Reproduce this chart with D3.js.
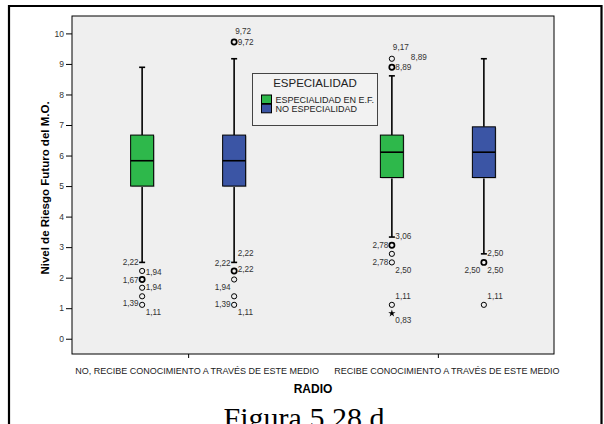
<!DOCTYPE html>
<html><head><meta charset="utf-8">
<script src="https://d3js.org/d3.v7.min.js"></script>
<style>body{margin:0;background:#fff}svg{display:block}</style>
</head><body>
<script>
const categories = ["NO, RECIBE CONOCIMIENTO A TRAVÉS DE ESTE MEDIO", "RECIBE CONOCIMIENTO A TRAVÉS DE ESTE MEDIO"];
const seriesNames = ["ESPECIALIDAD EN E.F.", "NO ESPECIALIDAD"];
const yTicks = [0,1,2,3,4,5,6,7,8,9,10];
// box statistics (per category)
const espLow = [2.50, 3.33], espQ1 = [5.00, 5.28], espMed = [5.83, 6.11], espQ3 = [6.67, 6.67], espHigh = [8.89, 8.61];
const noLow  = [2.50, 2.78], noQ1  = [5.00, 5.28], noMed  = [5.83, 6.11], noQ3  = [6.67, 6.94], noHigh  = [9.17, 9.17];
// outliers (circles) and extremes (stars)
const espOut = [[2.22, 1.94, 1.94, 1.67, 1.39, 1.11], [9.17, 8.89, 8.89, 3.06, 3.06, 2.78, 2.50, 1.11]];
const noOut  = [[9.72, 9.72, 2.22, 2.22, 2.22, 1.94, 1.39, 1.11], [2.50, 2.50, 2.50, 1.11]];
const espExt = [[], [0.83]];
const noExt  = [[], []];
// outlier labels: [text, level on value axis, side]
const espLabels = [
  [["2,22",2.50,"l"],["1,94",2.17,"r"],["1,67",1.92,"l"],["1,94",1.68,"r"],["1,39",1.16,"l"],["1,11",0.88,"r"]],
  [["9,17",9.56,"c"],["8,89",9.23,"rr"],["8,89",8.91,"r"],["3,06",3.36,"r"],["2,78",3.07,"l"],["2,78",2.52,"l"],["2,50",2.25,"r"],["1,11",1.40,"r"],["0,83",0.61,"r"]]
];
const noLabels = [
  [["9,72",10.07,"c"],["9,72",9.72,"r"],["2,22",2.82,"r"],["2,22",2.48,"l"],["2,22",2.27,"r"],["1,94",1.68,"l"],["1,39",1.13,"l"],["1,11",0.86,"r"]],
  [["2,50",2.82,"r"],["2,50",2.25,"l"],["2,50",2.25,"r"],["1,11",1.40,"r"]]
];
const colors = ["#2eb84b", "#3b55a5"];

const series = [
  {name: seriesNames[0], low: espLow, q1: espQ1, med: espMed, q3: espQ3, high: espHigh, out: espOut, ext: espExt, labels: espLabels, color: colors[0]},
  {name: seriesNames[1], low: noLow, q1: noQ1, med: noMed, q3: noQ3, high: noHigh, out: noOut, ext: noExt, labels: noLabels, color: colors[1]}
];

const W = 604, H = 424;
const svg = d3.select("body").append("svg").attr("width", W).attr("height", H);
const L = 72, R = 554, T = 16, B = 354;

// outer frame
svg.append("path").attr("d", `M9,${H+5}V6H601.5V${H+5}`).attr("fill","none").attr("stroke","#000").attr("stroke-width",2.2);

const x0 = d3.scalePoint().domain(categories).range([L, R]).padding(0.465);
const x1 = d3.scalePoint().domain(seriesNames).range([-46, 46]);
const y = d3.scaleLinear().domain([-0.5, 10.57]).range([B, T]);
const bw = 23;

svg.append("rect").attr("x", L).attr("y", T).attr("width", R-L).attr("height", B-T).attr("fill", "#efefef");

// axes
const ya = svg.append("g").attr("transform", `translate(${L},0)`)
  .call(d3.axisLeft(y).tickValues(yTicks).tickSize(6).tickPadding(2).tickFormat(d3.format("d")));
ya.select(".domain").remove();
ya.selectAll("text").attr("font-family","Liberation Sans, Arial, sans-serif").attr("font-size","8.5px").attr("fill","#333");
ya.selectAll("line").attr("stroke","#000");

const xa = svg.append("g").attr("transform", `translate(0,${B})`)
  .call(d3.axisBottom(x0).tickSize(4).tickPadding(10));
xa.select(".domain").remove();
xa.selectAll("text").attr("font-family","Liberation Sans, Arial, sans-serif").attr("font-size","9px").attr("fill","#222").attr("dx", 8.5);
xa.selectAll("line").attr("stroke","#000");

// boxes
series.forEach(s => {
  categories.forEach((c, i) => {
    const cx = x0(c) + x1(s.name);
    const g = svg.append("g");
    const sw = 1.6;
    g.append("line").attr("x1",cx).attr("x2",cx).attr("y1",y(s.q3[i])).attr("y2",y(s.high[i])).attr("stroke","#000").attr("stroke-width",sw);
    g.append("line").attr("x1",cx).attr("x2",cx).attr("y1",y(s.q1[i])).attr("y2",y(s.low[i])).attr("stroke","#000").attr("stroke-width",sw);
    g.append("line").attr("x1",cx-3).attr("x2",cx+3).attr("y1",y(s.high[i])).attr("y2",y(s.high[i])).attr("stroke","#000").attr("stroke-width",sw);
    g.append("line").attr("x1",cx-3).attr("x2",cx+3).attr("y1",y(s.low[i])).attr("y2",y(s.low[i])).attr("stroke","#000").attr("stroke-width",sw);
    g.append("rect").attr("x",cx-bw/2+1).attr("y",y(s.q3[i])+1).attr("width",bw).attr("height",y(s.q1[i])-y(s.q3[i])).attr("fill","#b4b4b4");
    g.append("rect").attr("x",cx-bw/2).attr("y",y(s.q3[i])).attr("width",bw).attr("height",y(s.q1[i])-y(s.q3[i]))
      .attr("fill",s.color).attr("stroke","#000").attr("stroke-width",1);
    g.append("line").attr("x1",cx-bw/2).attr("x2",cx+bw/2).attr("y1",y(s.med[i])).attr("y2",y(s.med[i])).attr("stroke","#000").attr("stroke-width",1.6);
    // outliers
    const counts = d3.rollups(s.out[i], v => v.length, d => d);
    counts.forEach(([v, n]) => {
      g.append("circle").attr("cx",cx).attr("cy",y(v)).attr("r",2.6).attr("fill","none").attr("stroke","#000").attr("stroke-width", n > 1 ? 1.7 : 1);
    });
    s.ext[i].forEach(v => {
      g.append("path").attr("d", d3.symbol(d3.symbolStar, 16)()).attr("transform",`translate(${cx},${y(v)})`).attr("fill","#000");
    });
    s.labels[i].forEach(([t, v, side]) => {
      const dx = side === "l" ? -3.5 : side === "rr" ? 19 : side === "c" ? 1 : 3.5;
      g.append("text").attr("x", cx + dx).attr("y", y(v)).attr("dy","0.35em")
        .attr("text-anchor", side === "l" ? "end" : "start")
        .attr("font-family","Liberation Sans, Arial, sans-serif").attr("font-size","8.2px").attr("fill","#333").text(t);
    });
  });
});

// plot frame
svg.append("rect").attr("x", L).attr("y", T).attr("width", R-L).attr("height", B-T).attr("fill","none").attr("stroke","#000").attr("stroke-width",1);

// legend
const lg = svg.append("g");
lg.append("rect").attr("x",252.5).attr("y",73.5).attr("width",125).attr("height",52).attr("fill","#f2f2f2").attr("stroke","#444").attr("stroke-width",1);
lg.append("text").attr("x",315).attr("y",86.7).attr("text-anchor","middle").attr("font-family","Liberation Sans, Arial, sans-serif").attr("font-size","11.5px").attr("fill","#222").text("ESPECIALIDAD");
seriesNames.forEach((n, i) => {
  lg.append("rect").attr("x",261.5).attr("y",95 + i*9.3).attr("width",10).attr("height",8.5).attr("fill",colors[i]).attr("stroke","#000").attr("stroke-width",1);
  lg.append("text").attr("x",275.5).attr("y",102.5 + i*9.3).attr("font-family","Liberation Sans, Arial, sans-serif").attr("font-size","9px").attr("fill","#222").text(n);
});

// axis titles
svg.append("text").attr("transform","translate(49,188) rotate(-90)").attr("text-anchor","middle")
  .attr("font-family","Liberation Sans, Arial, sans-serif").attr("font-size","11.5px").attr("font-weight","bold").text("Nivel de Riesgo Futuro del M.O.");
svg.append("text").attr("x",313).attr("y",392.5).attr("text-anchor","middle")
  .attr("font-family","Liberation Sans, Arial, sans-serif").attr("font-size","12px").attr("font-weight","bold").text("RADIO");
svg.append("text").attr("x",304).attr("y",428).attr("text-anchor","middle")
  .attr("font-family","Liberation Serif, serif").attr("font-size","30px").text("Figura 5.28 d");
</script>
</body></html>
